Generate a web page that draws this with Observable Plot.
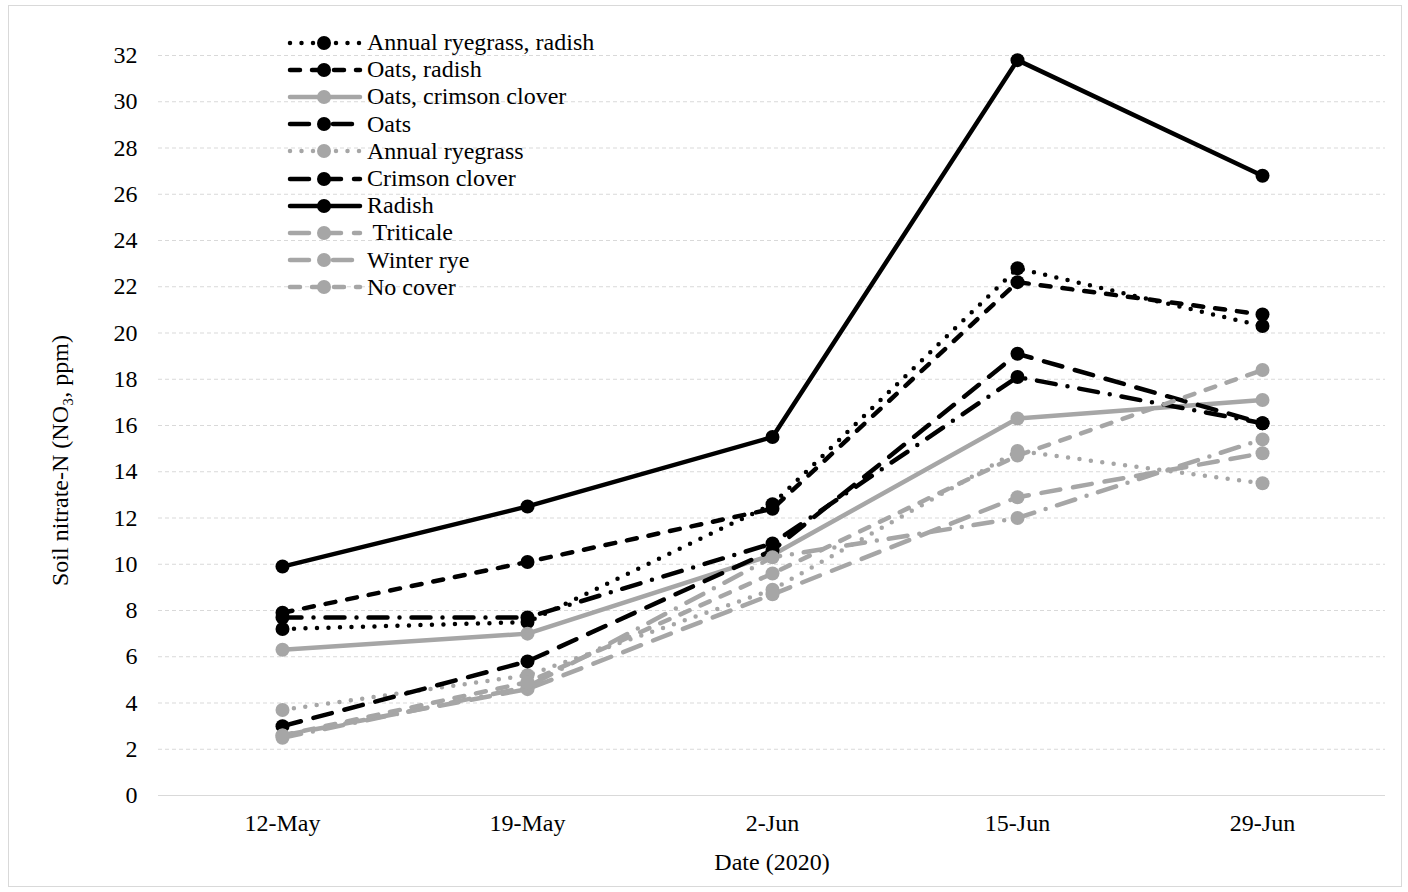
<!DOCTYPE html>
<html>
<head>
<meta charset="utf-8">
<script src="https://cdn.jsdelivr.net/npm/d3@7"></script>
<script src="https://cdn.jsdelivr.net/npm/@observablehq/plot@0.6"></script>
<style>
  html, body { margin: 0; padding: 0; background: #fff; }
  #wrap { position: relative; width: 1408px; height: 892px; overflow: hidden; font-family: "Liberation Serif", "Times New Roman", serif; }
  #frame { position: absolute; left: 8px; top: 5px; width: 1394px; height: 882px; border: 1px solid #d9d9d9; box-sizing: border-box; pointer-events: none; }
  #legend { position: absolute; left: 286px; top: 29px; }
  .row { display: flex; align-items: center; height: 27.2px; }
  .row svg { display: block; }
  .row span { font-size: 24px; line-height: 27px; color: #000; margin-left: 4px; white-space: pre; }
</style>
</head>
<body>
<div id="wrap">
  <div id="frame"></div>
  <div id="chart"></div>
  <div id="legend"></div>
</div>
<script>
// ---- data ----
const dates = ["12-May", "19-May", "2-Jun", "15-Jun", "29-Jun"];
const seriesNames = [
  "Annual ryegrass, radish", "Oats, radish", "Oats, crimson clover", "Oats",
  "Annual ryegrass", "Crimson clover", "Radish", " Triticale", "Winter rye", "No cover"
];
const annRyeRadish = [7.2, 7.5, 12.6, 22.8, 20.3];
const oatsRadish   = [7.9, 10.1, 12.4, 22.2, 20.8];
const oatsCrimson  = [6.3, 7.0, 10.4, 16.3, 17.1];
const oats         = [7.7, 7.7, 10.9, 18.1, 16.1];
const annRye       = [3.7, 5.2, 8.9, 14.9, 13.5];
const crimson      = [3.0, 5.8, 10.6, 19.1, 16.1];
const radish       = [9.9, 12.5, 15.5, 31.8, 26.8];
const triticale    = [2.6, 4.6, 8.7, 12.9, 14.8];
const winterRye    = [2.5, 4.7, 10.3, 12.0, 15.4];
const noCover      = [2.6, 4.9, 9.6, 14.7, 18.4];
const seriesValues = [annRyeRadish, oatsRadish, oatsCrimson, oats, annRye, crimson, radish, triticale, winterRye, noCover];
const yTicks = [0, 2, 4, 6, 8, 10, 12, 14, 16, 18, 20, 22, 24, 26, 28, 30, 32];
const yTitle = "Soil nitrate-N (NO\u2083, ppm)";
const xTitle = "Date (2020)";

// ---- styles (kept apart from data) ----
const BLACK = "#000000", GRAY = "#a6a6a6";
const DOT = "0,11.5", DASH = "10,12", LONG = "19,13", LONGDOT = "19,12,0,12";
const styles = [
  {c: BLACK, d: DOT}, {c: BLACK, d: DASH}, {c: GRAY, d: null}, {c: BLACK, d: LONGDOT},
  {c: GRAY, d: DOT}, {c: BLACK, d: LONG}, {c: BLACK, d: null}, {c: GRAY, d: LONG},
  {c: GRAY, d: LONGDOT}, {c: GRAY, d: DASH}
];

const rows = seriesNames.map((s, i) => dates.map((d, j) => ({series: s, date: d, value: seriesValues[i][j]})));

const marks = [
  Plot.gridY(yTicks.filter(t => t > 0), {stroke: "#d9d9d9", strokeOpacity: 1, strokeWidth: 1, strokeDasharray: "4,3"}),
  Plot.ruleY([0], {stroke: "#d9d9d9", strokeWidth: 1.2}),
  Plot.axisY({ticks: yTicks, tickSize: 0, tickPadding: 21, tickFormat: d => String(d), label: null}),
  Plot.axisX({tickSize: 0, tickPadding: 18, label: xTitle, labelAnchor: "center", labelArrow: "none", labelOffset: 74}),
  Plot.text([yTitle], {text: d => d, frameAnchor: "left", textAnchor: "middle", rotate: -90, dx: -98, dy: 35, fontSize: 24, fill: "#000"})
];
rows.forEach((data, i) => {
  const st = styles[i];
  marks.push(Plot.line(data, {x: "date", y: "value", stroke: st.c, strokeWidth: 4.5,
    strokeDasharray: st.d || undefined, strokeLinecap: "round", strokeLinejoin: "round"}));
  marks.push(Plot.dot(data, {x: "date", y: "value", r: 7, fill: st.c, stroke: "none"}));
});

const chart = Plot.plot({
  width: 1408, height: 892,
  marginLeft: 158, marginRight: 23, marginTop: 55, marginBottom: 97,
  style: {fontFamily: "'Liberation Serif', 'Times New Roman', serif", fontSize: "24px", color: "#000", background: "transparent"},
  x: {type: "point", domain: dates, padding: 0.5},
  y: {domain: [0, 32]},
  marks
});
document.getElementById("chart").appendChild(chart);

// ---- legend ----
const legend = document.getElementById("legend");
seriesNames.forEach((name, i) => {
  const st = styles[i];
  const row = document.createElement("div");
  row.className = "row";
  const ns = "http://www.w3.org/2000/svg";
  const svg = document.createElementNS(ns, "svg");
  svg.setAttribute("width", 77); svg.setAttribute("height", 24);
  const ln = document.createElementNS(ns, "line");
  ln.setAttribute("x1", 4); ln.setAttribute("x2", 74); ln.setAttribute("y1", 12); ln.setAttribute("y2", 12);
  ln.setAttribute("stroke", st.c); ln.setAttribute("stroke-width", 4.5);
  ln.setAttribute("stroke-linecap", "round");
  if (st.d) ln.setAttribute("stroke-dasharray", st.d);
  const ci = document.createElementNS(ns, "circle");
  ci.setAttribute("cx", 38); ci.setAttribute("cy", 12); ci.setAttribute("r", 7); ci.setAttribute("fill", st.c);
  svg.appendChild(ln); svg.appendChild(ci);
  const sp = document.createElement("span");
  sp.textContent = name;
  row.appendChild(svg); row.appendChild(sp);
  legend.appendChild(row);
});
</script>
</body>
</html>
